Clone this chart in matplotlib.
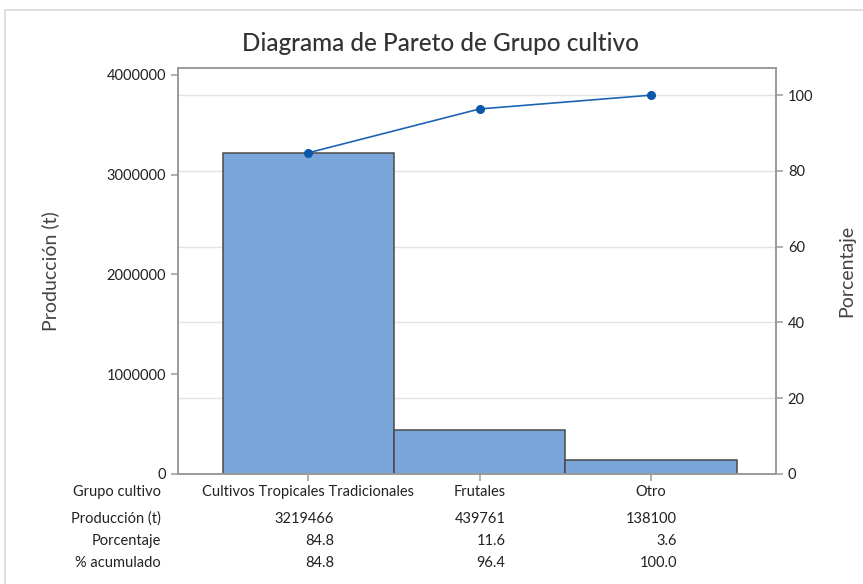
import numpy as np
import matplotlib.pyplot as plt
from matplotlib.patches import Rectangle

# Data
categories = ['Cultivos Tropicales Tradicionales', 'Frutales', 'Otro']
production = [3219466, 439761, 138100]
percent_labels = ['84.8', '11.6', '3.6']
cum_labels = ['84.8', '96.4', '100.0']
left_ticks = [0, 1000000, 2000000, 3000000, 4000000]
right_ticks = [0, 20, 40, 60, 80, 100]

plt.rcParams['font.family'] = ['Lato', 'DejaVu Sans']

bar_color = '#7aa5d8'
edge_color = '#4a4a4a'
line_color = '#1f63b4'
spine_color = '#9a9a9a'
text_color = '#222222'

total = float(np.sum(production))
cum_pct = np.cumsum(production) / total * 100

fig = plt.figure(figsize=(8.63, 5.84), dpi=100)
# light frame around the graph window
fig.patches.append(Rectangle((5 / 863, -0.05), 1.2, 1.05 - 10 / 584, transform=fig.transFigure,
                             fill=False, edgecolor='#d9d9d9', linewidth=1.2))

ax = fig.add_axes([0.2063, 0.1884, 0.6929, 0.6952])
ax2 = ax.twinx()

x = np.arange(len(categories))
ymax = 4070000
ax.set_ylim(0, ymax)
ax2.set_ylim(0, ymax / total * 100)
ax.set_xlim(-0.76, 2.73)

# gridlines follow the percentage axis, drawn behind the bars
for t in right_ticks[1:]:
    ax.axhline(t / 100 * total, color='#e3e3e3', linewidth=1, zorder=0)

ax.bar(x, production, width=1.0, color=bar_color, edgecolor=edge_color, linewidth=1.1, zorder=2)
ax2.plot(x, cum_pct, color=line_color, linewidth=1.2, marker='o', markersize=5.5,
         markerfacecolor='#0b57a8', markeredgecolor='#0b57a8', zorder=3)

ax.set_yticks(left_ticks)
ax.set_yticklabels([str(t) for t in left_ticks])
ax2.set_yticks(right_ticks)
ax.set_xticks(x)
ax.set_xticklabels([])

for a in (ax, ax2):
    for s in a.spines.values():
        s.set_color(spine_color)
        s.set_linewidth(1.2)
    a.tick_params(colors=spine_color, labelcolor=text_color, labelsize=10.5, length=5, width=1.1)

ax.set_ylabel('Producción (t)', fontsize=14, color='#444444', labelpad=34)
ax2.set_ylabel('Porcentaje', fontsize=14, color='#444444', labelpad=18)

fig.text(440 / 863, 0.926, 'Diagrama de Pareto de Grupo cultivo', ha='center', va='center',
         fontsize=17.5, color='#333333', fontweight='medium')

# summary table under the chart
row_names = ['Grupo cultivo', 'Producción (t)', 'Porcentaje', '% acumulado']
row_y = [492, 519, 541, 563]
rows = [categories, [str(v) for v in production], percent_labels, cum_labels]
label_x = 161 / 863
for name, yp, vals in zip(row_names, row_y, rows):
    fy = 1 - yp / 584
    fig.text(label_x, fy, name, ha='right', va='center', fontsize=10.5, color=text_color)
    for i, v in enumerate(vals):
        xd = ax.transData.transform((x[i], 0))[0]
        xf = fig.transFigure.inverted().transform((xd, 0))[0]
        if name == 'Grupo cultivo':
            fig.text(xf, fy, v, ha='center', va='center', fontsize=10.5, color=text_color)
        else:
            fig.text(xf + 26 / 863, fy, v, ha='right', va='center', fontsize=10.5, color=text_color)

fig.savefig('out.png', dpi=100)
